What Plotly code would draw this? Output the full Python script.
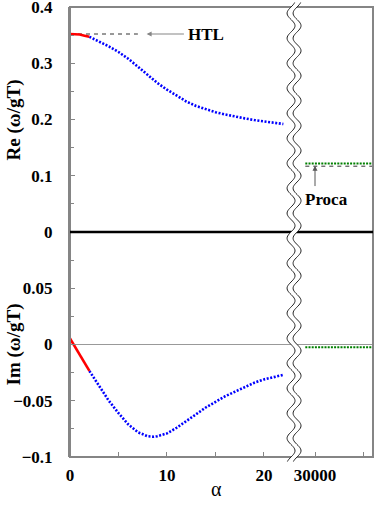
import numpy as np
import plotly.graph_objects as go
from plotly.subplots import make_subplots

alpha_red = [0, 0.5, 1, 1.5, 2]
re_red = [0.352, 0.3518, 0.351, 0.349, 0.347]
im_red = [0.0054, -0.0016, -0.0088, -0.016, -0.0235]

alpha_blue = [2, 3, 4, 5, 6, 7, 8, 8.6, 9, 10, 11, 12, 13, 14, 15, 16, 17, 18, 19, 20, 21, 22]
re_blue = [0.347, 0.339, 0.330, 0.320, 0.308, 0.294, 0.279, 0.271, 0.265, 0.253, 0.242,
           0.232, 0.224, 0.218, 0.213, 0.209, 0.205, 0.202, 0.199, 0.197, 0.194, 0.192]
im_blue = [-0.0235, -0.037, -0.050, -0.061, -0.071, -0.078, -0.0815, -0.082, -0.0815, -0.079,
           -0.074, -0.068, -0.062, -0.056, -0.051, -0.046, -0.042, -0.038, -0.034, -0.031,
           -0.029, -0.027]

# HTL value (dashed) and Proca limit (right of the axis break)
htl_alpha = [0, 7]
htl_re = [0.352, 0.352]
proca_alpha = [29980, 30120]
proca_re = [0.122, 0.122]
proca_re_limit = [0.117, 0.117]
proca_im = [-0.0024, -0.0024]

x_tickvals = [0, 5, 10, 15, 20, 30000, 30100]
x_ticktext = ["0", "", "10", "", "20", "30000", ""]

# broken x axis: small alpha as is, large alpha squeezed after the break
RIGHT_START = 25.26
RIGHT_SCALE = 20.0
X_MAX = 31.24
BREAK_X = 23.1


def ax_pos(a):
    if np.ndim(a):
        return [ax_pos(v) for v in a]
    return a if a < 1000 else RIGHT_START + (a - 30000) / RIGHT_SCALE


serif = "Liberation Serif, Times New Roman, serif"
gray = "#858585"

fig = make_subplots(rows=2, cols=1, shared_xaxes=True, vertical_spacing=0)

blue_dot = dict(color="#0000ff", width=2.6, dash="2px,1.6px")
red_line = dict(color="#ff0000", width=2.6)
green_dot = dict(color="#008000", width=2, dash="2px,1.2px")

fig.add_trace(go.Scatter(x=ax_pos(htl_alpha), y=htl_re, mode="lines",
                         line=dict(color="#333333", width=1, dash="4px,4px")), row=1, col=1)
fig.add_trace(go.Scatter(x=ax_pos(alpha_blue), y=re_blue, mode="lines", line=blue_dot), row=1, col=1)
fig.add_trace(go.Scatter(x=ax_pos(alpha_red), y=re_red, mode="lines", line=red_line), row=1, col=1)
fig.add_trace(go.Scatter(x=ax_pos(proca_alpha), y=proca_re_limit, mode="lines",
                         line=dict(color="#333333", width=1, dash="4px,4px")), row=1, col=1)
fig.add_trace(go.Scatter(x=ax_pos(proca_alpha), y=proca_re, mode="lines", line=green_dot), row=1, col=1)

fig.add_trace(go.Scatter(x=ax_pos(alpha_blue), y=im_blue, mode="lines", line=blue_dot), row=2, col=1)
fig.add_trace(go.Scatter(x=ax_pos(alpha_red), y=im_red, mode="lines", line=red_line), row=2, col=1)
fig.add_trace(go.Scatter(x=ax_pos(proca_alpha), y=proca_im, mode="lines", line=green_dot), row=2, col=1)

tickfont = dict(family=serif, size=17, color="black", weight="bold")

fig.update_xaxes(range=[0, X_MAX], showgrid=False, zeroline=False, showline=False,
                 automargin=False, ticklabeloverflow="allow")
fig.update_xaxes(showticklabels=False, ticks="", row=1, col=1)
fig.update_xaxes(ticks="inside", ticklen=5, tickcolor=gray, tickwidth=1,
                 tickvals=ax_pos(x_tickvals), ticktext=x_ticktext,
                 tickfont=tickfont, ticklabelstandoff=6, row=2, col=1)

fig.update_yaxes(showgrid=False, showline=True, linecolor=gray, linewidth=2,
                 ticks="inside", ticklen=5, tickcolor=gray, tickwidth=1,
                 tickfont=tickfont, ticklabelstandoff=12, automargin=False,
                 ticklabeloverflow="allow")
fig.update_yaxes(range=[0, 0.4], tickvals=[0, 0.1, 0.2, 0.3, 0.4], zeroline=False,
                 minor=dict(ticks="inside", ticklen=4, tickcolor=gray, dtick=0.05), row=1, col=1)
fig.update_yaxes(range=[-0.1, 0.1], tickvals=[-0.1, -0.05, 0, 0.05],
                 zeroline=True, zerolinecolor="#999999", zerolinewidth=1,
                 minor=dict(ticks="inside", ticklen=4, tickcolor=gray, dtick=0.025), row=2, col=1)

# frame and the thick line between the panels
fig.add_shape(type="rect", xref="paper", yref="paper", x0=0, x1=1, y0=0, y1=1,
              line=dict(color=gray, width=2))
fig.add_shape(type="line", xref="paper", yref="paper", x0=0, x1=1, y0=0.5, y1=0.5,
              line=dict(color="black", width=2.6))

# wavy double line marking the axis break
amp, gap, period = 0.41, 0.62, 25.0 / 450
ys = np.linspace(-0.01, 1.01, 400)
xl = BREAK_X - gap / 2 + amp * np.sin(2 * np.pi * ys / period)
xr = xl + gap


def to_path(xs, yv):
    return "M " + " L ".join(f"{a:.4f},{b:.4f}" for a, b in zip(xs, yv))


band = to_path(np.concatenate([xl, xr[::-1]]), np.concatenate([ys, ys[::-1]])) + " Z"
fig.add_shape(type="path", xref="x2", yref="paper", path=band, fillcolor="white",
              line=dict(width=0))
for xs in (xl, xr):
    fig.add_shape(type="path", xref="x2", yref="paper", path=to_path(xs, ys),
                  line=dict(color="#222222", width=1))

lab = dict(family=serif, size=17, color="black", weight="bold")
fig.add_annotation(x=ax_pos(7.9), y=0.352, ax=ax_pos(11.9), ay=0.352, xref="x", yref="y",
                   axref="x", ayref="y", text="", showarrow=True, arrowhead=2,
                   arrowsize=1, arrowwidth=1, arrowcolor=gray)
fig.add_annotation(x=ax_pos(12.0), y=0.352, xref="x", yref="y", text="HTL",
                   showarrow=False, xanchor="left", font=lab)
fig.add_annotation(x=ax_pos(30000), y=0.118, ax=ax_pos(30000), ay=0.079, xref="x", yref="y",
                   axref="x", ayref="y", text="", showarrow=True, arrowhead=2,
                   arrowsize=1, arrowwidth=1, arrowcolor="#555555")
fig.add_annotation(x=ax_pos(29975), y=0.058, xref="x", yref="y", text="Proca",
                   showarrow=False, xanchor="left", font=lab)

title_font = dict(family=serif, size=19, color="black", weight="bold")
fig.add_annotation(x=-0.185, y=0.75, xref="paper", yref="paper", text="Re (ω/gT)",
                   textangle=-90, showarrow=False, font=title_font,
                   xanchor="center", yanchor="middle")
fig.add_annotation(x=-0.185, y=0.25, xref="paper", yref="paper", text="Im (ω/gT)",
                   textangle=-90, showarrow=False, font=title_font,
                   xanchor="center", yanchor="middle")
fig.add_annotation(x=0.485, y=-0.071, xref="paper", yref="paper", text="α",
                   showarrow=False, font=dict(family=serif, size=20, color="black"),
                   xanchor="center", yanchor="middle")

fig.update_layout(width=374, height=509, margin=dict(l=70, r=1, t=7, b=52, autoexpand=False),
                  plot_bgcolor="white", paper_bgcolor="white", showlegend=False,
                  font=dict(family=serif, color="black"))

fig.write_html("out.html", config={"displayModeBar": False},
               post_script="document.body.style.margin='0';")
